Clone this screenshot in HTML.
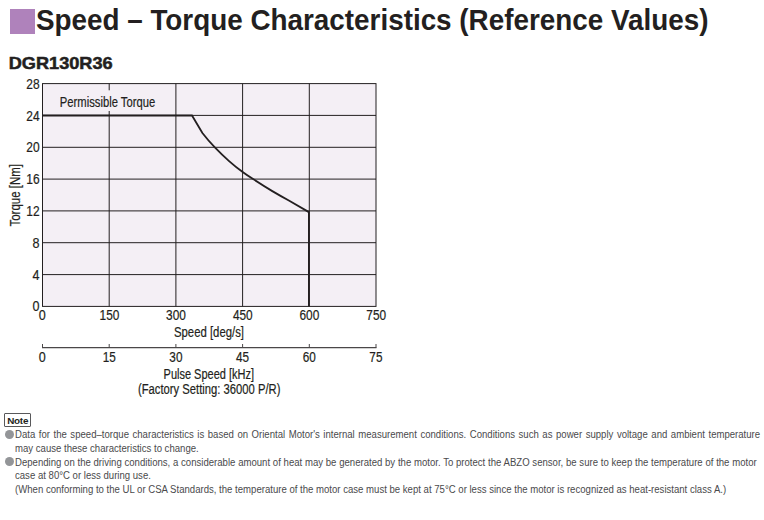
<!DOCTYPE html>
<html lang="en">
<head>
<meta charset="utf-8">
<title>Speed – Torque Characteristics (Reference Values)</title>
<style>
  html,body{margin:0;padding:0;background:#fff;}
  body{width:764px;height:520px;position:relative;overflow:hidden;
       font-family:"Liberation Sans",Arial,Helvetica,sans-serif;color:#231f20;}
  .sq{position:absolute;left:10px;top:9px;width:25px;height:25px;background:#af82bb;}
  svg{position:absolute;left:0;top:0;}
  svg text{font-family:"Liberation Sans",Arial,Helvetica,sans-serif;fill:#231f20;stroke:#231f20;stroke-width:0.2px;}
  .note{position:absolute;left:4.1px;top:413.3px;width:25.2px;height:11.9px;border:1px solid #58585a;border-radius:1px;
        font-size:9.9px;line-height:13.2px;text-align:center;font-weight:bold;letter-spacing:-0.25px;color:#231f20;}
  .dot{position:absolute;left:4.9px;width:9.2px;height:9.2px;border-radius:50%;background:#939598;}
  .ln{position:absolute;left:15.3px;width:777.8px;font-size:10px;line-height:13px;height:13px;color:#4a4a4c;
      white-space:nowrap;transform:scaleX(0.958);transform-origin:0 0;}
  .j{text-align:justify;text-align-last:justify;}
</style>
</head>
<body>
<div class="sq"></div>

<svg width="764" height="520" viewBox="0 0 764 520">
  <rect x="42.5" y="83.6" width="333.5" height="222.8" fill="#f4eff5"/>
  <g stroke="#231f20" stroke-width="1" fill="none">
    <path d="M109.2 83.6V306.4M175.9 83.6V306.4M242.6 83.6V306.4M309.3 83.6V306.4"/>
    <path d="M42.5 115.4H376M42.5 147.3H376M42.5 179.1H376M42.5 210.9H376M42.5 242.7H376M42.5 274.6H376"/>
    <rect x="42.5" y="83.6" width="333.5" height="222.8"/>
  </g>
  <rect x="58" y="90.3" width="100" height="20.7" fill="#f4eff5"/>
  <path d="M42.5 115.5H192L202.4 133C206.5 138.3 210.7 143.2 215.1 147.6C219.5 152.2 224.3 156.8 229.1 161.1C233.5 165 238 168.7 242.7 172C246 174.5 249.5 176.8 253.1 179.1C259.3 183.2 265.8 187.3 272.3 191.1C277.6 194.2 283 197.3 288.4 200.3L308.9 212.1V306.4" fill="none" stroke="#231f20" stroke-width="1.8" stroke-linejoin="miter"/>
  <text x="35.9" y="30" font-size="28.9" font-weight="bold" textLength="672.6" lengthAdjust="spacingAndGlyphs" style="stroke:none">Speed – Torque Characteristics (Reference Values)</text>
  <text x="8.7" y="69" font-size="16.6" font-weight="bold" textLength="104" lengthAdjust="spacingAndGlyphs" style="stroke-width:0.5px">DGR130R36</text>
  <!-- y labels -->
  <g font-size="13.8" text-anchor="end">
    <text x="39.6" y="88.6" textLength="13.3" lengthAdjust="spacingAndGlyphs">28</text>
    <text x="39.6" y="120.5" textLength="13.3" lengthAdjust="spacingAndGlyphs">24</text>
    <text x="39.6" y="152.4" textLength="13.3" lengthAdjust="spacingAndGlyphs">20</text>
    <text x="39.6" y="184.2" textLength="13.3" lengthAdjust="spacingAndGlyphs">16</text>
    <text x="39.6" y="216.0" textLength="13.3" lengthAdjust="spacingAndGlyphs">12</text>
    <text x="39.6" y="247.8" textLength="7" lengthAdjust="spacingAndGlyphs">8</text>
    <text x="39.6" y="279.7" textLength="7" lengthAdjust="spacingAndGlyphs">4</text>
    <text x="39.6" y="311.4" textLength="7" lengthAdjust="spacingAndGlyphs">0</text>
  </g>
  <!-- x labels -->
  <g font-size="13.8" text-anchor="middle">
    <text x="42.3" y="320" textLength="7" lengthAdjust="spacingAndGlyphs">0</text>
    <text x="109.5" y="320" textLength="19.8" lengthAdjust="spacingAndGlyphs">150</text>
    <text x="176" y="320" textLength="19.8" lengthAdjust="spacingAndGlyphs">300</text>
    <text x="242.8" y="320" textLength="19.8" lengthAdjust="spacingAndGlyphs">450</text>
    <text x="309.4" y="320" textLength="19.8" lengthAdjust="spacingAndGlyphs">600</text>
    <text x="376.2" y="320" textLength="19.8" lengthAdjust="spacingAndGlyphs">750</text>
    <text x="209" y="336.8" textLength="70" lengthAdjust="spacingAndGlyphs">Speed [deg/s]</text>
    <text x="42.3" y="361.8" textLength="7" lengthAdjust="spacingAndGlyphs">0</text>
    <text x="109.2" y="361.8" textLength="13.1" lengthAdjust="spacingAndGlyphs">15</text>
    <text x="175.9" y="361.8" textLength="13.1" lengthAdjust="spacingAndGlyphs">30</text>
    <text x="242.6" y="361.8" textLength="13.1" lengthAdjust="spacingAndGlyphs">45</text>
    <text x="309.2" y="361.8" textLength="13.1" lengthAdjust="spacingAndGlyphs">60</text>
    <text x="375.9" y="361.8" textLength="13.1" lengthAdjust="spacingAndGlyphs">75</text>
    <text x="208.8" y="378.6" textLength="90.5" lengthAdjust="spacingAndGlyphs">Pulse Speed [kHz]</text>
    <text x="209.2" y="393.7" textLength="142.4" lengthAdjust="spacingAndGlyphs">(Factory Setting: 36000 P/R)</text>
    <text x="0" y="0" transform="translate(20.3 195.3) rotate(-90)" textLength="62.4" lengthAdjust="spacingAndGlyphs">Torque [Nm]</text>
    <text x="107.5" y="106.5" textLength="95.4" lengthAdjust="spacingAndGlyphs">Permissible Torque</text>
  </g>
  <!-- pulse axis -->
  <g stroke="#4a4748" stroke-width="1" fill="none">
    <path d="M42 347.7H376.5" stroke-width="1.3"/>
    <path d="M42.5 344V347.7M109.2 344V347.7M175.9 344V347.7M242.6 344V347.7M309.3 344V347.7M376 344V347.7"/>
  </g>
</svg>

<div class="note">Note</div>
<div class="dot" style="top:429.8px"></div>
<div class="ln j" style="top:428px">Data for the speed–torque characteristics is based on Oriental Motor's internal measurement conditions. Conditions such as power supply voltage and ambient temperature</div>
<div class="ln" style="top:441.5px">may cause these characteristics to change.</div>
<div class="dot" style="top:457.3px"></div>
<div class="ln j" style="top:455.5px;width:774.2px">Depending on the driving conditions, a considerable amount of heat may be generated by the motor. To protect the ABZO sensor, be sure to keep the temperature of the motor</div>
<div class="ln" style="top:469px">case at 80°C or less during use.</div>
<div class="ln" style="top:482.5px">(When conforming to the UL or CSA Standards, the temperature of the motor case must be kept at 75°C or less since the motor is recognized as heat-resistant class A.)</div>
</body>
</html>
